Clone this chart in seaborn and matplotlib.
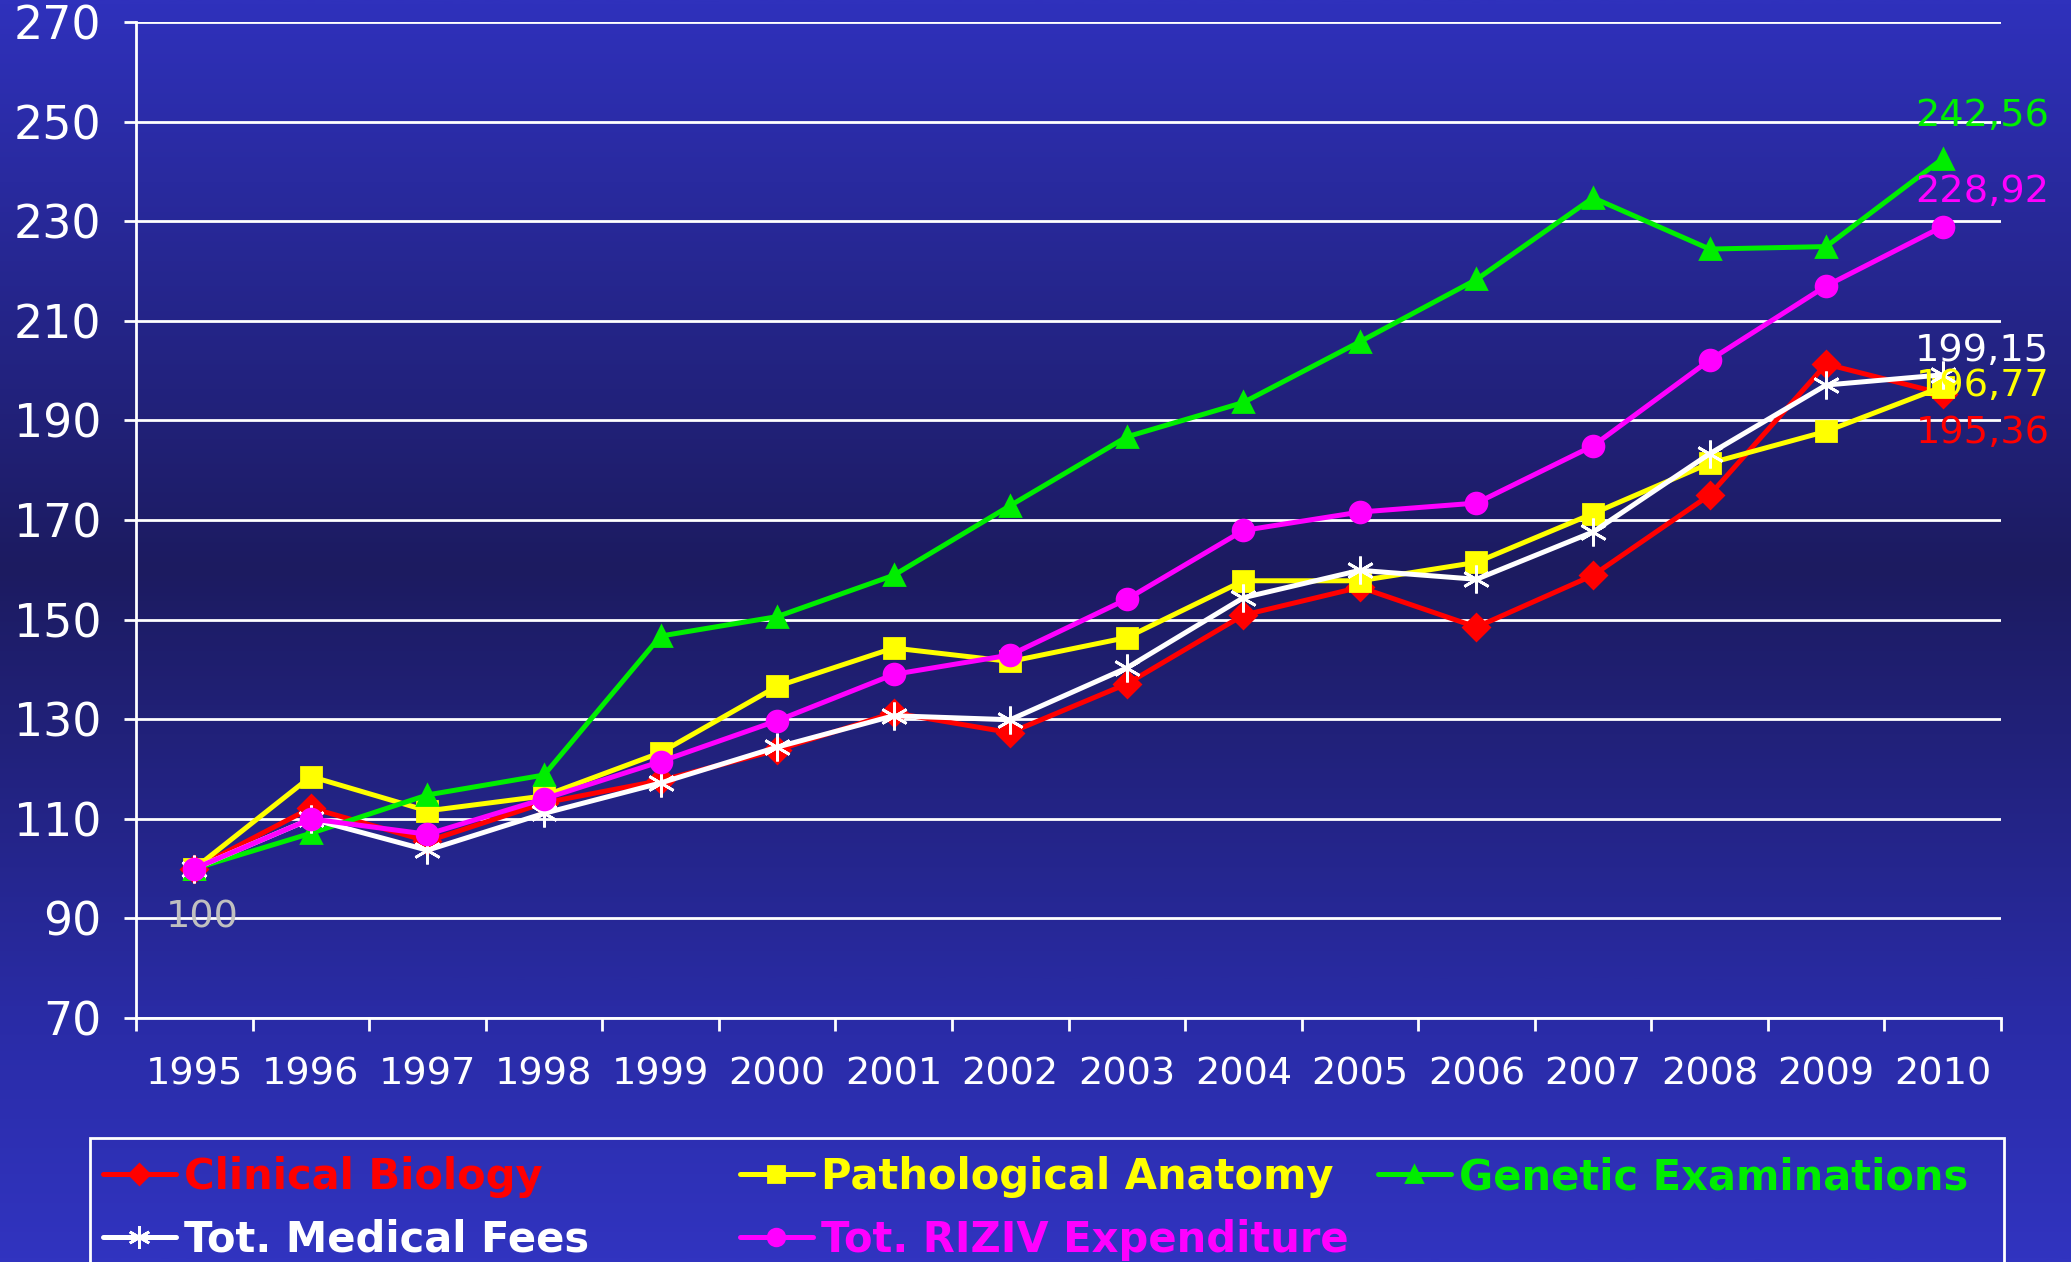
import numpy as np
import seaborn as sns
from matplotlib import pyplot as plt
from matplotlib.colors import LinearSegmentedColormap
from matplotlib.lines import Line2D
from matplotlib.patches import Rectangle

# data (index, 1995 = 100)
years = [str(y) for y in range(1995, 2011)]
clinical_biology = [100, 112.2, 105.5, 113.2, 117.7, 123.8, 131.3, 127.3, 137.1,
                    150.9, 156.5, 148.5, 158.9, 175.0, 201.3, 195.36]
pathological_anatomy = [100, 118.5, 111.6, 114.6, 123.3, 136.6, 144.3, 141.6, 146.4,
                        157.8, 157.8, 161.5, 171.3, 181.4, 187.8, 196.77]
genetic_examinations = [100, 107.1, 114.8, 118.8, 146.7, 150.6, 158.9, 172.9, 186.7,
                        193.6, 205.8, 218.3, 234.7, 224.4, 224.9, 242.56]
tot_medical_fees = [100, 110.0, 103.7, 111.1, 117.2, 124.4, 130.7, 129.9, 140.3,
                    154.4, 159.9, 158.1, 167.6, 183.3, 197.1, 199.15]
tot_riziv = [100, 110.0, 106.9, 114.0, 121.5, 129.7, 139.0, 142.9, 154.1,
             167.9, 171.6, 173.4, 184.9, 202.1, 217.0, 228.92]

series_names = ["Clinical Biology", "Pathological Anatomy", "Genetic Examinations",
                "Tot. Medical Fees", "Tot. RIZIV Expenditure"]
end_labels = ["195,36", "196,77", "242,56", "199,15", "228,92"]

sns.set_theme(style="white")
plt.rcParams['font.family'] = ['DejaVu Sans']

fig = plt.figure(figsize=(20.71, 12.62), dpi=100)

# background gradient: bright blue top and bottom, dark navy in the middle
bg = fig.add_axes([0, 0, 1, 1], zorder=-10)
cmap = LinearSegmentedColormap.from_list(
    "bg", [(0.0, "#2f31bc"), (0.45, "#1c1b60"), (0.82, "#2a2ca8"), (1.0, "#3134c0")])
grad = np.linspace(0, 1, 512).reshape(-1, 1)
bg.imshow(grad, aspect="auto", cmap=cmap, extent=[0, 1, 0, 1], origin="upper")
bg.axis("off")

ax = fig.add_axes([0.0657, 0.1933, 0.9005, 0.7893])
ax.set_facecolor("none")

xpos = list(range(len(years)))
styles = [
    (clinical_biology, "#ff0000", "D", 13, 1),
    (pathological_anatomy, "#ffff00", "s", 15, 2),
    (genetic_examinations, "#00ee00", "^", 15, 3),
    (tot_medical_fees, "#ffffff", (6, 2, 0), 20, 4),
    (tot_riziv, "#ff00ff", "o", 15, 5),
]
for vals, col, mk, ms, z in styles:
    sns.lineplot(x=xpos, y=vals, ax=ax, color=col, lw=3.6, marker=mk,
                 markersize=ms, markeredgecolor=col, markeredgewidth=2, zorder=z)

ax.set_xlim(-0.5, 15.5)
ax.set_ylim(70, 270)
ax.set_yticks(range(70, 271, 20))
ax.set_xticks(xpos)
ax.set_xticklabels(years)
ax.set_xticks(np.arange(-0.5, 16, 1), minor=True)
ax.set_xlabel("")
ax.set_ylabel("")

ax.grid(axis="y", color="white", lw=2)
ax.grid(axis="x", visible=False)
for s in ["top", "right"]:
    ax.spines[s].set_visible(False)
for s in ["left", "bottom"]:
    ax.spines[s].set_color("white")
    ax.spines[s].set_linewidth(2)

ax.tick_params(axis="y", colors="white", labelsize=33, length=9, width=2,
               direction="out", pad=16, left=True)
ax.tick_params(axis="x", which="major", colors="white", labelsize=27.5, length=0, pad=28)
ax.tick_params(axis="x", which="minor", color="white", length=9, width=2,
               direction="out", bottom=True)

# value labels at the end of each line
label_pos = [(15.34, 187.5), (15.34, 197.0), (15.34, 251.2), (15.34, 204.0), (15.34, 235.8)]
for (vals, col, *_), txt, (lx, ly) in zip(styles, end_labels, label_pos):
    ax.text(lx, ly, txt, color=col, fontsize=27.5, ha="center", va="center",
            clip_on=False, zorder=10)
ax.text(0.07, 90.2, "100", color="#c0c0c0", fontsize=27.5, ha="center", va="center")

# legend: boxed, three columns, cut off by the bottom edge
handles = [Line2D([], [], color=col, lw=3.6, marker=mk, markersize=ms * 0.8,
                  markeredgecolor=col, markeredgewidth=2)
           for _, col, mk, ms, _ in styles]
columns = [([0, 3], 103), ([1, 4], 740), ([2], 1378)]
for idx, px in columns:
    fig.legend([handles[i] for i in idx], [series_names[i] for i in idx],
               loc="upper left", bbox_to_anchor=(px / 2071, 1 - 1156 / 1262),
               frameon=False, prop={"size": 30, "weight": "bold"},
               labelcolor="linecolor", handlelength=1.75, handletextpad=0.2,
               labelspacing=0.5, borderpad=0, borderaxespad=0)
fig.add_artist(Rectangle((90 / 2071, -0.05), (2004 - 90) / 2071, 0.05 + 1 - 1138 / 1262,
                         transform=fig.transFigure, fill=False, ec="white", lw=2))

fig.savefig("out.png", dpi=100)
